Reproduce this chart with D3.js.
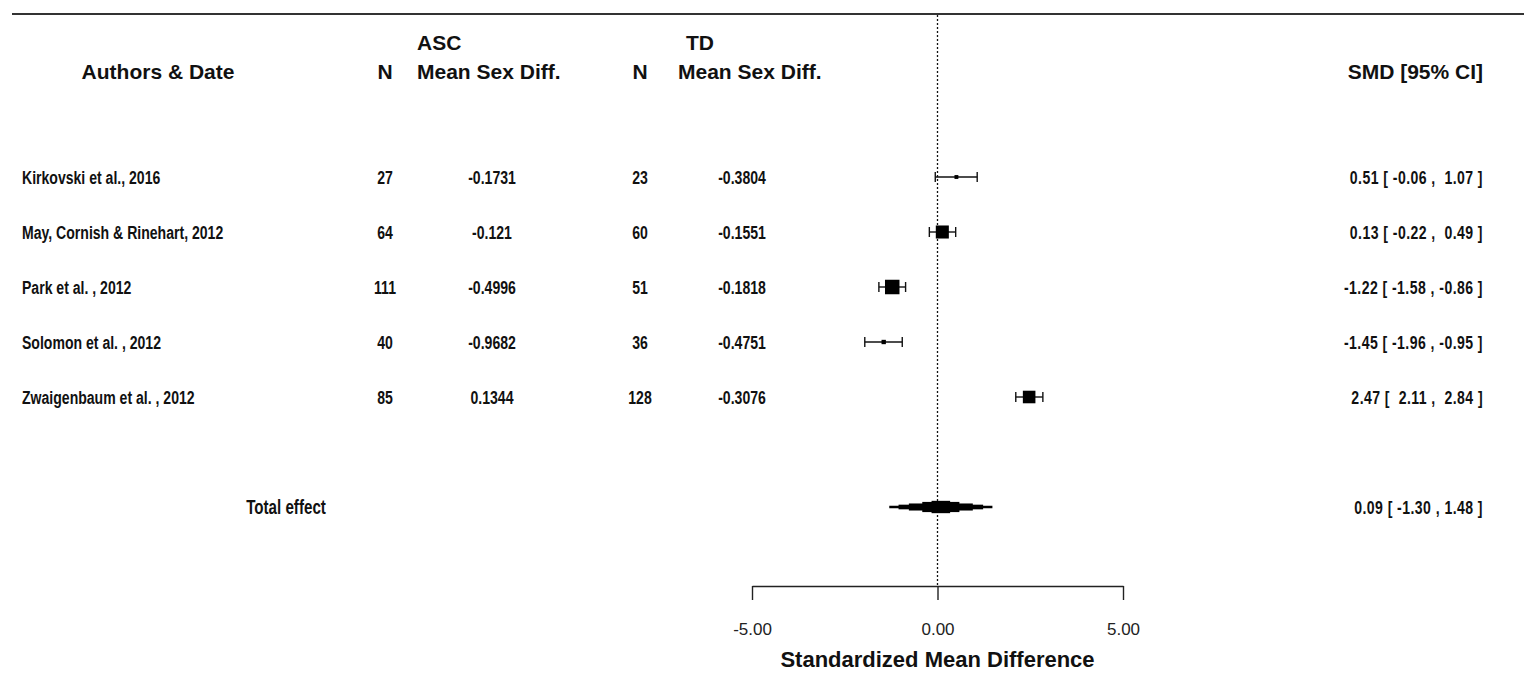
<!DOCTYPE html>
<html>
<head>
<meta charset="utf-8">
<script src="https://cdn.jsdelivr.net/npm/d3@7"></script>
<style>
  body { margin: 0; background: #fff; }
  svg { display: block; }
  .hdr { font-family: "Liberation Sans", Arial, sans-serif; font-weight: bold; font-size: 21px; fill: #111; }
  .row { font-family: "Liberation Sans", Arial, sans-serif; font-weight: bold; font-size: 19px; fill: #111; white-space: pre; }
  .ci { letter-spacing: 0.6px; }
  .tick-lab { font-family: "Liberation Sans", Arial, sans-serif; font-size: 17px; fill: #222; }
</style>
</head>
<body>
<svg id="chart" width="1524" height="674"></svg>
<script>
// studies
var studies = ["Kirkovski et al., 2016", "May, Cornish & Rinehart, 2012", "Park et al. , 2012",
               "Solomon et al. , 2012", "Zwaigenbaum et al. , 2012"];
var ascN = [27, 64, 111, 40, 85];
var ascMean = ["-0.1731", "-0.121", "-0.4996", "-0.9682", "0.1344"];
var tdN = [23, 60, 51, 36, 128];
var tdMean = ["-0.3804", "-0.1551", "-0.1818", "-0.4751", "-0.3076"];
var smd = [0.51, 0.13, -1.22, -1.45, 2.47];
var ciLow = [-0.06, -0.22, -1.58, -1.96, 2.11];
var ciHigh = [1.07, 0.49, -0.86, -0.95, 2.84];
var weight = [8, 27, 30, 9, 26];   // relative box weights (%)

var total = {est: 0.09, lo: -1.30, hi: 1.48};
var xTicks = [-5, 0, 5];

const svg = d3.select("#chart");

const x = d3.scaleLinear().domain([-5, 5]).range([752, 1123]);
const y = d3.scaleLinear().domain([0, 4]).range([177, 397]);
const box = d3.scaleLinear().domain([0, 30]).range([0, 14.5]);
const yTotal = y(6);
const yAxis = 586;
const narrow = 0.74;   // no Arial Narrow installed, squeeze the bold face

var rows = studies.map(function(s, i) {
    return {name: s, n1: ascN[i], m1: ascMean[i], n2: tdN[i], m2: tdMean[i],
            est: smd[i], lo: ciLow[i], hi: ciHigh[i], w: weight[i], i: i};
});

function fmt(v, pad) {
    var s = v.toFixed(2);
    return (v < 0 || !pad) ? s : " " + s;
}
function ciText(d, pad) {
    return d.est.toFixed(2) + " [ " + fmt(d.lo, pad) + " , " + fmt(d.hi, pad) + " ]";
}

// narrow text placed at (px, py)
function narrowText(sel, px, py, anchor, txt) {
    return sel.append("text")
        .attr("class", "row")
        .attr("transform", "translate(" + px + "," + py + ") scale(" + narrow + ",1)")
        .attr("text-anchor", anchor)
        .text(txt);
}

// top rule
svg.append("line")
    .attr("x1", 12).attr("x2", 1524)
    .attr("y1", 14).attr("y2", 14)
    .attr("stroke", "#333").attr("stroke-width", 2);

// reference line at 0
svg.append("line")
    .attr("x1", x(0)).attr("x2", x(0))
    .attr("y1", 15).attr("y2", yAxis)
    .attr("stroke", "#111").attr("stroke-width", 1.3)
    .attr("stroke-dasharray", "2,2");

// header
var hdr = svg.append("g").attr("class", "hdr");
hdr.append("text").attr("x", 158).attr("y", 79).attr("text-anchor", "middle").text("Authors & Date");
hdr.append("text").attr("x", 385).attr("y", 79).attr("text-anchor", "middle").text("N");
hdr.append("text").attr("x", 417).attr("y", 50).text("ASC");
hdr.append("text").attr("x", 417).attr("y", 79).text("Mean Sex Diff.");
hdr.append("text").attr("x", 640).attr("y", 79).attr("text-anchor", "middle").text("N");
hdr.append("text").attr("x", 686).attr("y", 50).text("TD");
hdr.append("text").attr("x", 678).attr("y", 79).text("Mean Sex Diff.");
hdr.append("text").attr("x", 1483).attr("y", 79).attr("text-anchor", "end").text("SMD [95% CI]");

// study rows
var g = svg.selectAll(".study")
    .data(rows)
    .enter().append("g")
        .attr("class", "study")
        .attr("transform", d => "translate(0," + y(d.i) + ")");

g.each(function(d) {
    var s = d3.select(this);
    narrowText(s, 22, 6.5, "start", d.name);
    narrowText(s, 385, 6.5, "middle", d.n1);
    narrowText(s, 492, 6.5, "middle", d.m1);
    narrowText(s, 640, 6.5, "middle", d.n2);
    narrowText(s, 742, 6.5, "middle", d.m2);
    narrowText(s, 1483, 6.5, "end", ciText(d, true)).classed("ci", true);
});

// CI whiskers with caps
g.append("line")
    .attr("x1", d => x(d.lo)).attr("x2", d => x(d.hi))
    .attr("y1", 0).attr("y2", 0)
    .attr("stroke", "#111").attr("stroke-width", 1.4);
g.selectAll(".cap")
    .data(d => [d.lo, d.hi])
    .enter().append("line")
        .attr("class", "cap")
        .attr("x1", v => x(v)).attr("x2", v => x(v))
        .attr("y1", -5).attr("y2", 5)
        .attr("stroke", "#111").attr("stroke-width", 1.4);

g.append("rect")
    .attr("x", d => x(d.est) - box(d.w) / 2)
    .attr("y", d => -box(d.w) / 2)
    .attr("width", d => box(d.w))
    .attr("height", d => box(d.w))
    .attr("fill", "#000");

// total effect: stepped diamond
var tot = svg.append("g").attr("transform", "translate(0," + yTotal + ")");
var steps = [1, 0.82, 0.62, 0.36, 0.18];
tot.selectAll("rect")
    .data(steps)
    .enter().append("rect")
        .attr("x", f => x(total.est) - f * (x(total.est) - x(total.lo)))
        .attr("width", f => f * (x(total.hi) - x(total.lo)))
        .attr("y", f => -(2.5 + 12 * (1 - f)) / 2)
        .attr("height", f => 2.5 + 12 * (1 - f))
        .attr("fill", "#000");

narrowText(svg, 286, yTotal + 7, "middle", "Total effect").style("font-size", "20.5px");
narrowText(svg, 1483, yTotal + 6.5, "end", ciText(total, false)).classed("ci", true);

// x axis
var axis = svg.append("g")
    .attr("transform", "translate(0," + yAxis + ")")
    .call(d3.axisBottom(x).tickValues(xTicks).tickSize(14).tickSizeOuter(0)
        .tickFormat(d => d.toFixed(2)));
axis.select(".domain").attr("stroke", "#222").attr("stroke-width", 1.4);
axis.selectAll(".tick line").attr("stroke", "#222").attr("stroke-width", 1.4);
axis.selectAll(".tick text")
    .attr("class", "tick-lab")
    .attr("y", 44)
    .attr("dy", "0.32em")
    .attr("font-family", null).attr("font-size", null);

svg.append("text").attr("class", "hdr")
    .attr("x", x(0)).attr("y", 667).attr("text-anchor", "middle")
    .style("font-size", "22px")
    .text("Standardized Mean Difference");
</script>
</body>
</html>
